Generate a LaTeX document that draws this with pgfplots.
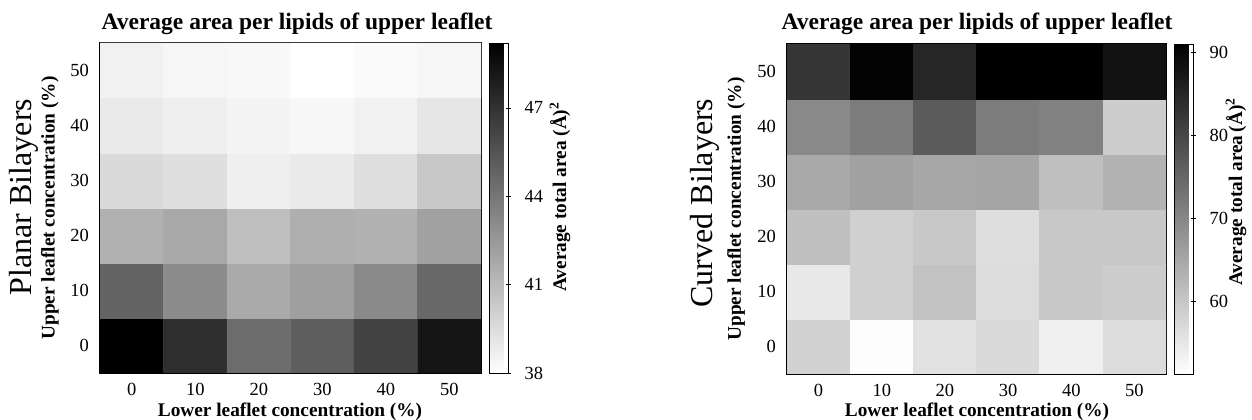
\documentclass[border=0pt]{standalone}
\usepackage{fontspec}
\setmainfont{Liberation Serif}
\usepackage{pgfplots}
\pgfplotsset{compat=1.18}
\pgfplotsset{/pgf/number format/assume math mode=true}

\newcommand{\tk}{\fontsize{18.5}{20}\selectfont}
\newcommand{\lb}{\fontsize{19.3}{21}\selectfont\bfseries}
\newcommand{\ttl}{\fontsize{23.5}{25}\selectfont\bfseries}
\newcommand{\side}{\fontsize{32}{34}\selectfont}

% upper (y) vs lower (x) leaflet concentration, area per lipid
\pgfplotstableread{
x y z
0 0 49.2
10 0 47.1
20 0 44.4
30 0 45.0
40 0 46.2
50 0 48.2
0 10 44.8
10 10 43.0
20 10 41.7
30 10 42.2
40 10 43.1
50 10 44.6
0 20 41.4
10 20 41.8
20 20 40.8
30 20 41.5
40 20 41.4
50 20 42.1
0 30 39.6
10 30 39.4
20 30 38.7
30 30 38.9
40 30 39.4
50 30 40.4
0 40 38.9
10 40 38.7
20 40 38.5
30 40 38.35
40 40 38.6
50 40 39.1
0 50 38.6
10 50 38.4
20 50 38.3
30 50 38.0
40 50 38.2
50 50 38.4
}\planar

\pgfplotstableread{
x y z
0 0 58.2
10 0 51.5
20 0 55.9
30 0 57.0
40 0 53.5
50 0 56.7
0 10 54.8
10 10 58.5
20 10 60.6
30 10 56.7
40 10 59.8
50 10 59.0
0 20 61.0
10 20 58.5
20 20 59.8
30 20 56.3
40 20 59.8
50 20 59.8
0 30 64.5
10 30 65.7
20 30 64.8
30 30 65.2
40 30 61.0
50 30 63.2
0 40 69.5
10 40 71.5
20 40 76.6
30 40 71.5
40 40 70.7
50 40 59.0
0 50 82.3
10 50 90.2
20 50 84.8
30 50 91.0
40 50 91.0
50 50 87.9
}\curved

\pgfplotsset{
  heat/.style={scale only axis, height=330pt,
    xmin=-5, xmax=55, ymin=-5, ymax=55, enlargelimits=false,
    xtick={0,10,...,50}, ytick={0,10,...,50},
    tick style={draw=none}, axis line style={line width=1.1pt},
    tick label style={font=\tk, inner sep=0pt},
    xticklabel style={yshift=-10pt}, yticklabel style={xshift=-11pt},
    colormap={wb}{gray(0cm)=(1); gray(1cm)=(0)},
    colorbar},
  cbar/.style={at={(parent axis.north east)}, anchor=north west,
    scale only axis, width=19pt, height=330pt,
    axis line style={line width=0.6pt},
    ytick pos=right, yticklabel pos=right, tick align=center,
    major tick length=5pt, tick style={black, line width=0.6pt},
    yticklabel style={font=\tk, inner sep=0pt, anchor=west}}
}

\begin{document}
\begin{tikzpicture}
\useasboundingbox (0pt,0pt) rectangle (1252pt,-420pt);

\begin{axis}[heat, at={(100pt,-43pt)}, anchor=north west, width=381pt,
  point meta min=38, point meta max=49.2,
  colorbar style={cbar, ytick={38,41,44,47},
    yticklabel style={xshift=13.5pt}}]
\addplot[matrix plot*, mesh/cols=6, point meta=explicit] table[meta=z] {\planar};
\end{axis}

\begin{axis}[heat, at={(787pt,-44pt)}, anchor=north west, width=379pt,
  point meta min=51.2, point meta max=91,
  colorbar style={cbar, ytick={60,70,80,90},
    yticklabel style={xshift=13.5pt}}]
\addplot[matrix plot*, mesh/cols=6, point meta=explicit] table[meta=z] {\curved};
\end{axis}

% titles and labels
\node[font=\ttl, anchor=base] at (297pt,-30pt) {Average area per lipids of upper leaflet};
\node[font=\ttl, anchor=base] at (977pt,-30pt) {Average area per lipids of upper leaflet};
\node[font=\lb, anchor=base] at (290pt,-416pt) {Lower leaflet concentration (\%)};
\node[font=\lb, anchor=base] at (977pt,-416pt) {Lower leaflet concentration (\%)};
\node[font=\lb, rotate=90, inner sep=0pt] at (50pt,-208pt) {Upper leaflet concentration (\%)};
\node[font=\lb, rotate=90, inner sep=0pt] at (736pt,-209pt) {Upper leaflet concentration (\%)};
\node[font=\side, rotate=90, inner sep=0pt] at (24pt,-197pt) {Planar Bilayers};
\node[font=\side, rotate=90, inner sep=0pt] at (705pt,-203pt) {Curved Bilayers};
\node[font=\lb, rotate=90, inner sep=0pt] at (560pt,-197pt) {Average total area (Å)\textsuperscript{2}};
\node[font=\lb, rotate=90, inner sep=0pt] at (1236pt,-192pt) {Average total area\,(Å)\textsuperscript{2}};
\end{tikzpicture}
\end{document}
